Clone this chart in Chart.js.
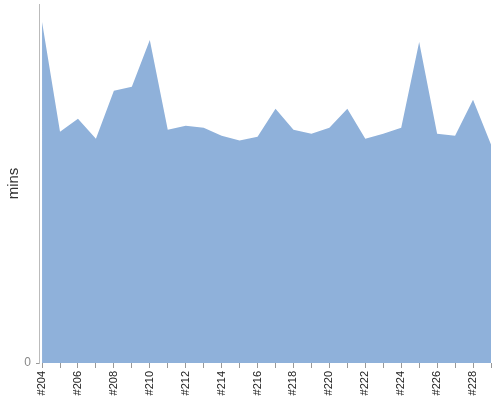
<!DOCTYPE html>
<html>
<head>
<meta charset="utf-8">
<script src="https://cdn.jsdelivr.net/npm/chart.js@4"></script>
<style>
  html, body { margin: 0; padding: 0; background: #fff; }
  #wrap { width: 500px; height: 400px; }
</style>
</head>
<body>
<div id="wrap"><canvas id="myChart"></canvas></div>
<script>
// build numbers along the bottom
const builds = ["#204", "#205", "#206", "#207", "#208", "#209", "#210", "#211", "#212",
  "#213", "#214", "#215", "#216", "#217", "#218", "#219", "#220", "#221", "#222",
  "#223", "#224", "#225", "#226", "#227", "#228", "#229"];
// duration per build
const mins = [34.2, 23.2, 24.5, 22.5, 27.3, 27.7, 32.4, 23.4, 23.8, 23.6, 22.8, 22.3,
  22.7, 25.5, 23.4, 23.0, 23.6, 25.5, 22.5, 23.0, 23.6, 32.2, 23.0, 22.8, 26.4, 21.9];
const yTicks = [0];

Chart.defaults.font.family = "'Liberation Sans', Arial, sans-serif";

const ctx = document.getElementById("myChart").getContext("2d");

const chartData = {
  type: "line",
  data: {
    datasets: [
      {
        label: "mins",
        data: mins.map((v, i) => ({ x: i, y: v })),
        backgroundColor: "rgb(143, 177, 218)",
        borderWidth: 0,
        pointRadius: 0,
        fill: "origin",
        tension: 0,
      },
    ],
  },
  options: {
    responsive: true,
    maintainAspectRatio: false,
    animation: false,
    layout: { padding: { top: 4, right: 9, left: 0, bottom: 0 } },
    plugins: { legend: { display: false }, tooltip: { enabled: false } },
    scales: {
      x: {
        type: "linear",
        min: -0.17,
        max: builds.length - 1,
        afterBuildTicks: (scale) => {
          scale.ticks = builds.map((b, i) => ({ value: i }));
        },
        afterFit: (scale) => {
          scale.height = 37;
          scale.paddingLeft = 0;
          scale.paddingRight = 0;
        },
        ticks: {
          autoSkip: false,
          minRotation: 90,
          maxRotation: 90,
          padding: 3,
          color: "#222",
          font: { size: 11 },
          callback: (v) => (v % 2 === 0 ? builds[v] : ""),
        },
        grid: {
          drawOnChartArea: false,
          drawTicks: true,
          tickLength: 5,
          color: "#999",
        },
        border: { display: false },
      },
      y: {
        min: 0,
        max: 36,
        afterBuildTicks: (scale) => {
          scale.ticks = yTicks.map((v) => ({ value: v }));
        },
        afterFit: (scale) => {
          scale.width = 39;
          scale.paddingTop = 0;
          scale.paddingBottom = 0;
        },
        ticks: {
          color: "#888",
          font: { size: 12 },
          padding: 5,
        },
        grid: {
          drawOnChartArea: false,
          drawTicks: true,
          tickLength: 3,
          color: "#999",
        },
        border: { display: true, color: "#bbb", width: 1 },
        title: {
          display: true,
          text: "mins",
          color: "#333",
          font: { size: 15 },
          padding: { top: 5, bottom: 4 },
        },
      },
    },
  },
};
const myChart = new Chart(ctx, chartData);
</script>
</body>
</html>
